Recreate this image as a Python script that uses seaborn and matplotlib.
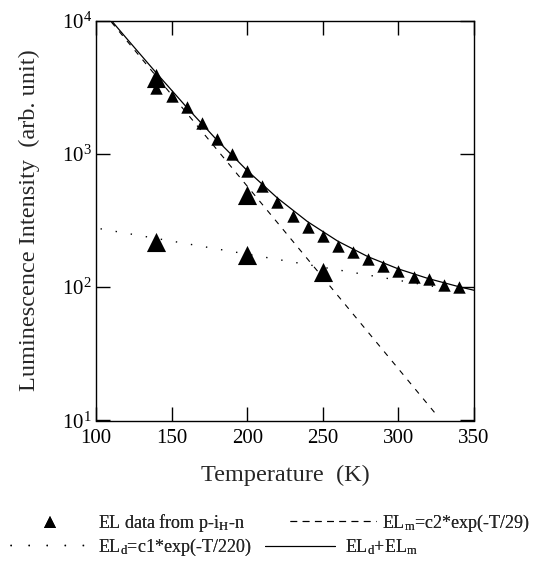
import matplotlib
matplotlib.use("Agg")
import matplotlib.pyplot as plt
import seaborn as sns
import pandas as pd
from matplotlib.lines import Line2D

# ---- data ----
t_small = [140, 150, 160, 170, 180, 190, 200, 210, 220, 230, 240, 250, 260, 270,
           280, 290, 300, 310, 320, 330, 340]
el_small = [3100, 2735, 2238, 1697, 1290, 993, 748, 574, 438, 342, 284, 242, 204, 185,
            162, 143, 133, 120, 115, 104, 101]
t_big = [140, 140, 200, 200, 250]
el_big = [3700, 218, 492, 174, 131]

# EL_m (dashed) end points
t_m = [105, 325]
el_m = [11455, 11.1]
# EL_d (dotted) end points
t_d = [103, 350]
el_d = [274, 89.8]
# EL_d + EL_m (solid)
t_sum = [105, 110, 120, 140, 160, 180, 200, 220, 240, 260, 280, 300, 320, 340, 350]
el_sum = [11726, 10044, 7389, 4029, 2232, 1268, 749, 466, 309.5, 221, 169, 137, 115.8,
          100.8, 94.8]

x_ticks = [100, 150, 200, 250, 300, 350]
y_ticks = [10, 100, 1000, 10000]
y_tick_labels = [r"$10^{1}$", r"$10^{2}$", r"$10^{3}$", r"$10^{4}$"]

legend_labels = [r"EL data from p-i$_{\rm H}$-n",
                 r"EL$_{\rm m}$=c2*exp(-T/29)",
                 r"EL$_{\rm d}$=c1*exp(-T/220)",
                 r"EL$_{\rm d}$+EL$_{\rm m}$"]

sns.set_theme(style="ticks")
plt.rcParams["font.family"] = ["Liberation Serif", "DejaVu Serif"]
plt.rcParams["mathtext.fontset"] = "custom"
plt.rcParams["mathtext.rm"] = "Liberation Serif"
plt.rcParams["mathtext.it"] = "Liberation Serif:italic"

fig = plt.figure(figsize=(5.4, 5.72), dpi=100)
W, H = 540, 572
ax = fig.add_axes([96 / W, 1 - 420.5 / H, 378 / W, 400 / H])

df_sum = pd.DataFrame({"T": t_sum, "EL": el_sum})
df_m = pd.DataFrame({"T": t_m, "EL": el_m})
df_d = pd.DataFrame({"T": t_d, "EL": el_d})

sns.lineplot(data=df_sum, x="T", y="EL", ax=ax, color="black", lw=0.9,
             estimator=None, sort=False)
sns.lineplot(data=df_m, x="T", y="EL", ax=ax, color="black", lw=0.8,
             estimator=None, sort=False, linestyle=(0, (5, 6)))
sns.lineplot(data=df_d, x="T", y="EL", ax=ax, color="black", lw=1.0,
             estimator=None, sort=False, linestyle=(0, (1, 10)))

sns.scatterplot(x=t_small, y=el_small, ax=ax, marker="^", s=80, color="black",
                linewidth=0, zorder=5)
sns.scatterplot(x=t_big, y=el_big, ax=ax, marker="^", s=190, color="black",
                linewidth=0, zorder=5)

ax.set_yscale("log")
ax.set_xlim(100, 350)
ax.set_ylim(10, 10000)
ax.set_xticks(x_ticks)
ax.set_xticklabels([str(v) for v in x_ticks])
ax.set_yticks(y_ticks)
ax.set_yticklabels(y_tick_labels)
ax.minorticks_off()
ax.tick_params(direction="in", length=10, width=1, top=True, right=True,
               labelsize=15, colors="black")
ax.tick_params(axis="x", pad=6)
ax.tick_params(axis="y", pad=3)
for sp in ax.spines.values():
    sp.set_color("black")
    sp.set_linewidth(1)

ax.set_xlabel("Temperature  (K)", fontsize=17.5, labelpad=12)
ax.set_ylabel("Luminescence Intensity  (arb. unit)", fontsize=17.5, labelpad=16)

# legends (hand-placed like the reference)
h_data = Line2D([], [], ls="none", marker="^", ms=8, color="black", mew=0)
h_m = Line2D([], [], ls=(0, (6, 5)), lw=0.8, color="black")
h_d = Line2D([], [], ls=(0, (1, 12)), lw=1.0, color="black")
h_sum = Line2D([], [], ls="-", lw=0.8, color="black")

fs = 13
pxpf = fs * 100 / 72.0


def put(handle, label, x_px, y_px, hl_px, pad_px):
    leg = fig.legend([handle], [label], loc="center left",
                     bbox_to_anchor=(x_px / W, 1 - y_px / H), frameon=False,
                     fontsize=fs, borderpad=0, borderaxespad=0,
                     handlelength=hl_px / pxpf, handletextpad=pad_px / pxpf,
                     handleheight=0.7)
    return leg


fig.add_artist(put(h_data, legend_labels[0], 10, 523, 80, 8))
fig.add_artist(put(h_m, legend_labels[1], 290, 523, 86, 6))
fig.add_artist(put(h_d, legend_labels[2], 10, 547, 80, 8))
fig.add_artist(put(h_sum, legend_labels[3], 265, 547, 70, 10))

fig.savefig("out.png", dpi=100)
